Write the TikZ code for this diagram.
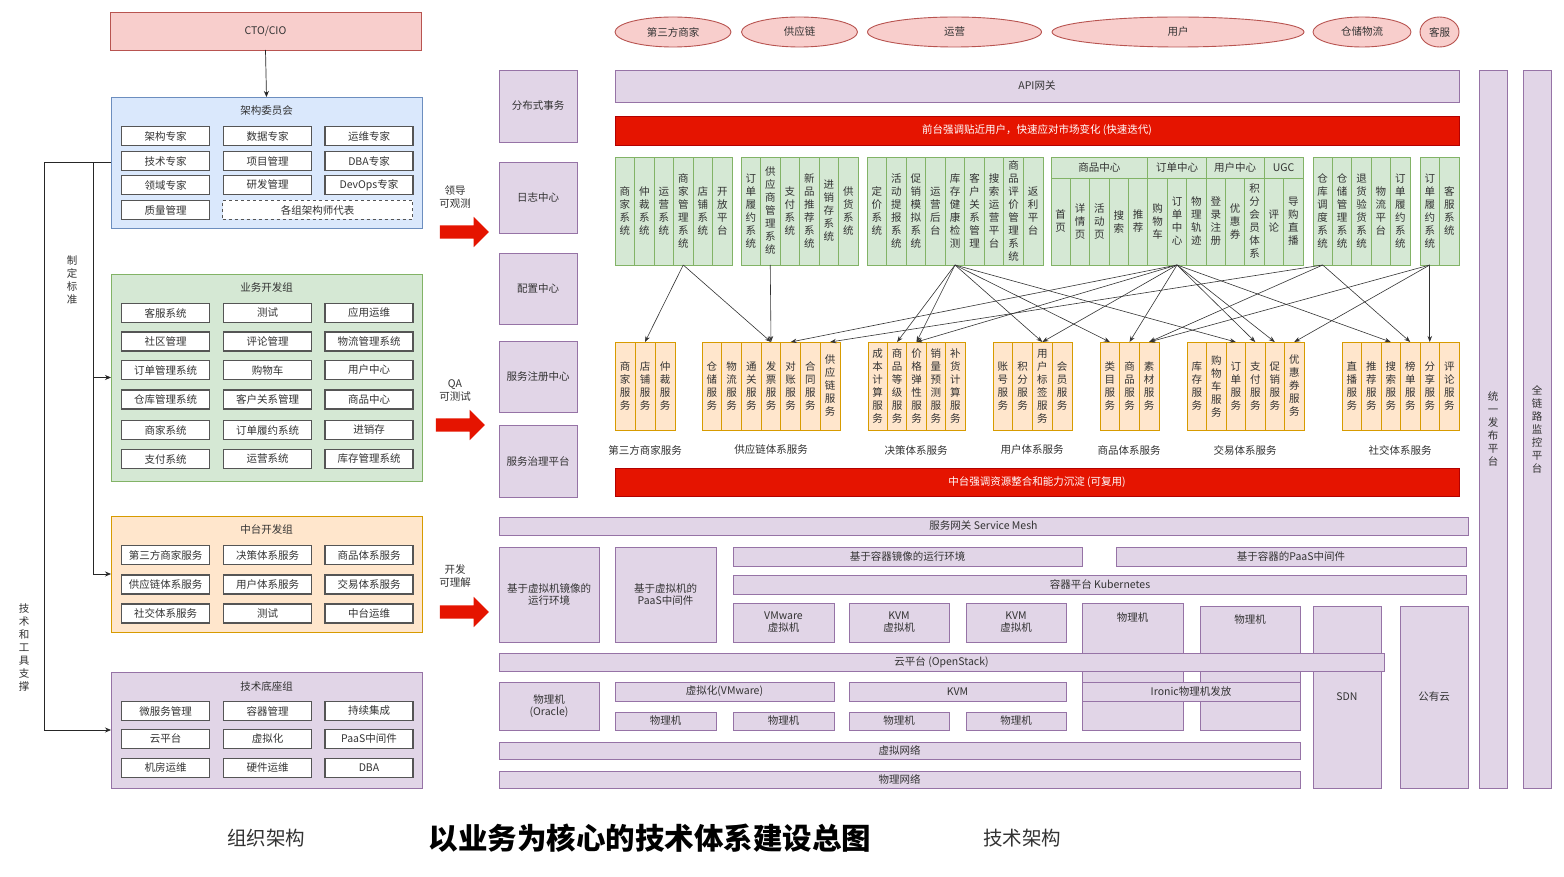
\documentclass[tikz,border=0pt]{standalone}
\usepackage{fontspec}
\setmainfont{Noto Sans CJK SC}
\usetikzlibrary{shapes.arrows,shapes.geometric,arrows.meta}
\definecolor{purF}{HTML}{E1D5E7}
\definecolor{purS}{HTML}{9673A6}
\definecolor{grnF}{HTML}{D5E8D4}
\definecolor{grnS}{HTML}{82B366}
\definecolor{orgF}{HTML}{FFE6CC}
\definecolor{orgS}{HTML}{D79B00}
\definecolor{pnkF}{HTML}{F8CECC}
\definecolor{pnkS}{HTML}{B85450}
\definecolor{bluF}{HTML}{DAE8FC}
\definecolor{bluS}{HTML}{6C8EBF}
\definecolor{redF}{HTML}{E51400}
\definecolor{redS}{HTML}{B20000}
\definecolor{ink}{HTML}{333333}
\definecolor{cellS}{HTML}{555555}

% stack the characters of a word one above the other
\makeatletter
\def\vt#1{\vt@#1\vt@end}
\def\vt@#1#2\vt@end{#1\ifx\vt@end#2\vt@end\else\\\vt@#2\vt@end\fi}
\makeatother

% box given by its corners: style, name, x1, y1, x2, y2, text
\newcommand\rbox[7]{\node[#1,anchor=north west,minimum width={(#5)-(#3)},minimum height={(#6)-(#4)}] (#2) at (#3,#4) {#7};}
% row of equal columns with vertical text: style, prefix, x1, y1, x2, y2, count, labels
\newcommand\colgrp[8]{%
  \foreach \lbl [count=\i] in {#8}{%
    \pgfmathsetmacro\cx{#3+(\i-1)*((#5)-(#3))/#7}%
    \node[#1,anchor=north west,minimum width={((#5)-(#3))/#7},minimum height={(#6)-(#4)}] (#2-\i) at (\cx,#4) {\expandafter\vt\expandafter{\lbl}};%
  }}
% white cell inside an organisation group
\newcommand\cell[4]{\node[cellbox] (#1) at (#2,#3) {#4};}

\begin{document}
\begin{tikzpicture}[x=1pt,y=-1pt,
  txt/.style={text=ink,font=\fontsize{10.5}{12}\selectfont},
  base/.style={inner sep=0pt,outer sep=0pt,line width=0.9pt,txt},
  pur/.style={base,draw=purS,fill=purF},
  grn/.style={base,draw=grnS,fill=grnF},
  org/.style={base,draw=orgS,fill=orgF},
  pnk/.style={base,draw=pnkS,fill=pnkF},
  blu/.style={base,draw=bluS,fill=bluF},
  redbar/.style={base,draw=redS,fill=redF,text=white},
  vcol/.style={align=center,font=\fontsize{10.5}{13}\selectfont},
  gcol/.style={grn,vcol},
  ocol/.style={org,vcol},
  cellbox/.style={base,draw=cellS,fill=white,line width=1.1pt,minimum width=88,minimum height=19},
  ell/.style={ellipse,base,draw=pnkS,fill=pnkF,minimum height=30},
  bigarrow/.style={single arrow,fill=redF,draw=none,inner xsep=0pt,inner ysep=6.5pt,
    single arrow head extend=8.5pt,minimum height=49pt,outer sep=0pt},
  lnk/.style={draw=black!85,line width=0.7pt,-{Stealth[length=6pt,width=5pt]}},
  flow/.style={draw=black!80,line width=0.6pt,-{Stealth[length=6pt,width=4.5pt]}},
]
\useasboundingbox (0,0) rectangle (1564,877);
\fill[white] (0,0) rectangle (1564,877);

% ---------------- organisation ----------------
\rbox{pnk}{cto}{110}{12}{421}{50}{CTO/CIO}
\rbox{blu}{arch}{111}{97}{422}{228}{}
\node[txt] (archT) at (266.5,111) {架构委员会};
\cell{a1}{165.5}{136}{架构专家}
\cell{a2}{267.5}{136}{数据专家}
\cell{a3}{369}{136}{运维专家}
\cell{a4}{165.5}{161}{技术专家}
\cell{a5}{267.5}{161}{项目管理}
\cell{a6}{369}{161}{DBA专家}
\cell{a7}{165.5}{185}{领域专家}
\cell{a8}{267.5}{185}{研发管理}
\cell{a9}{369}{185}{DevOps专家}
\cell{a10}{165.5}{210}{质量管理}
\node[base,draw=cellS,fill=white,line width=1.1pt,dashed,minimum width=190,minimum height=19] (a11) at (317.5,210) {各组架构师代表};

\rbox{grn}{biz}{111}{274}{422}{481}{}
\node[txt] (bizT) at (266.5,288) {业务开发组};
\cell{b1}{165.5}{313}{客服系统}
\cell{b2}{267.5}{313}{测试}
\cell{b3}{369}{313}{应用运维}
\cell{b4}{165.5}{341.5}{社区管理}
\cell{b5}{267.5}{341.5}{评论管理}
\cell{b6}{369}{341.5}{物流管理系统}
\cell{b7}{165.5}{370}{订单管理系统}
\cell{b8}{267.5}{370}{购物车}
\cell{b9}{369}{370}{用户中心}
\cell{b10}{165.5}{399.5}{仓库管理系统}
\cell{b11}{267.5}{399.5}{客户关系管理}
\cell{b12}{369}{399.5}{商品中心}
\cell{b13}{165.5}{430}{商家系统}
\cell{b14}{267.5}{430}{订单履约系统}
\cell{b15}{369}{430}{进销存}
\cell{b16}{165.5}{459}{支付系统}
\cell{b17}{267.5}{459}{运营系统}
\cell{b18}{369}{459}{库存管理系统}

\rbox{org}{mid}{111}{516}{422}{632}{}
\node[txt] (midT) at (266.5,530) {中台开发组};
\cell{m1}{165.5}{555}{第三方商家服务}
\cell{m2}{267.5}{555}{决策体系服务}
\cell{m3}{369}{555}{商品体系服务}
\cell{m4}{165.5}{584.5}{供应链体系服务}
\cell{m5}{267.5}{584.5}{用户体系服务}
\cell{m6}{369}{584.5}{交易体系服务}
\cell{m7}{165.5}{613.5}{社交体系服务}
\cell{m8}{267.5}{613.5}{测试}
\cell{m9}{369}{613.5}{中台运维}

\rbox{pur}{tech}{111}{672}{422}{788}{}
\node[txt] (techT) at (266.5,686) {技术底座组};
\cell{t1}{165.5}{711}{微服务管理}
\cell{t2}{267.5}{711}{容器管理}
\cell{t3}{369}{711}{持续集成}
\cell{t4}{165.5}{739}{云平台}
\cell{t5}{267.5}{739}{虚拟化}
\cell{t6}{369}{739}{PaaS中间件}
\cell{t7}{165.5}{768}{机房运维}
\cell{t8}{267.5}{768}{硬件运维}
\cell{t9}{369}{768}{DBA}

% reporting lines
\draw[lnk] (cto.south) -- (arch.north);
\coordinate (split) at (93,162.5);
\draw[lnk] (arch.west) -- (44,162.5) |- (tech.west);
\draw[lnk] (split) |- (biz.west);
\draw[lnk] (split) |- (mid.west);
\node[txt,vcol] (std) at (72,280) {\vt{制定标准}};
\node[txt,vcol] (tools) at (24,648) {\vt{技术和工具支撑}};

% ---------------- red arrows ----------------
\node[bigarrow] (ra1) at (461,232) {};
\node[txt,align=center,font=\fontsize{10.5}{13}\selectfont] (ra1T) at (455,197) {领导\\可观测};
\node[bigarrow] (ra2) at (457,425) {};
\node[txt,align=center,font=\fontsize{10.5}{13}\selectfont] (ra2T) at (455,390) {QA\\可测试};
\node[bigarrow] (ra3) at (461,612) {};
\node[txt,align=center,font=\fontsize{10.5}{13}\selectfont] (ra3T) at (455,576) {开发\\可理解};

% ---------------- platform side columns ----------------
\rbox{pur}{dtx}{499}{70}{577}{142}{分布式事务}
\rbox{pur}{logc}{499}{162}{577}{233}{日志中心}
\rbox{pur}{cfgc}{499}{253}{577}{324}{配置中心}
\rbox{pur}{regc}{499}{341}{577}{412}{服务注册中心}
\rbox{pur}{govc}{499}{425}{577}{497}{服务治理平台}
\rbox{pur,vcol}{rel}{1479}{70}{1507}{788}{\vt{统一发布平台}}
\rbox{pur,vcol}{mon}{1523}{70}{1551}{788}{\vt{全链路监控平台}}

% ---------------- users ----------------
\node[ell,minimum width=116] (u1) at (673,32) {第三方商家};
\node[ell,minimum width=116] (u2) at (799.5,32) {供应链};
\node[ell,minimum width=174] (u3) at (954.5,32) {运营};
\node[ell,minimum width=252] (u4) at (1178,32) {用户};
\node[ell,minimum width=98] (u5) at (1362,32) {仓储物流};
\node[ell,minimum width=39,inner sep=0pt] (u6) at (1439.5,32) {客服};

\rbox{pur}{api}{615}{70}{1459}{102}{API网关}
\rbox{redbar}{front}{615}{116}{1459}{145}{前台强调贴近用户，快速应对市场变化 (快速迭代)}

% ---------------- front-end systems ----------------
\colgrp{gcol}{g1}{615}{157}{732}{265}{6}{商家系统,仲裁系统,运营系统,商家管理系统,店铺系统,开放平台}
\colgrp{gcol}{g2}{741}{157}{858}{265}{6}{订单履约系统,供应商管理系统,支付系统,新品推荐系统,进销存系统,供货系统}
\colgrp{gcol}{g3}{867}{157}{1043}{265}{9}{定价系统,活动提报系统,促销模拟系统,运营后台,库存健康检测,客户关系管理,搜索运营平台,商品评价管理系统,返利平台}
\rbox{grn}{g4h1}{1051}{157}{1147.9}{178}{商品中心}
\rbox{grn}{g4h2}{1147.9}{157}{1206.1}{178}{订单中心}
\rbox{grn}{g4h3}{1206.1}{157}{1264.2}{178}{用户中心}
\rbox{grn}{g4h4}{1264.2}{157}{1303}{178}{UGC}
\colgrp{gcol}{g4}{1051}{178}{1303}{265}{13}{首页,详情页,活动页,搜索,推荐,购物车,订单中心,物理轨迹,登录注册,优惠券,积分会员体系,评论,导购直播}
\colgrp{gcol}{g5}{1313}{157}{1410}{265}{5}{仓库调度系统,仓储管理系统,退货验货系统,物流平台,订单履约系统}
\colgrp{gcol}{g6}{1420}{157}{1459}{265}{2}{订单履约系统,客服系统}

% ---------------- middle-platform services ----------------
\colgrp{ocol}{o1}{615}{342}{675}{430}{3}{商家服务,店铺服务,仲裁服务}
\colgrp{ocol}{o2}{702}{342}{840}{430}{7}{仓储服务,物流服务,通关服务,发票服务,对账服务,合同服务,供应链服务}
\colgrp{ocol}{o3}{868}{342}{965}{430}{5}{成本计算服务,商品等级服务,价格弹性服务,销量预测服务,补货计算服务}
\colgrp{ocol}{o4}{993}{342}{1072}{430}{4}{账号服务,积分服务,用户标签服务,会员服务}
\colgrp{ocol}{o5}{1100}{342}{1159}{430}{3}{类目服务,商品服务,素材服务}
\colgrp{ocol}{o6}{1187}{342}{1304}{430}{6}{库存服务,购物车服务,订单服务,支付服务,促销服务,优惠券服务}
\colgrp{ocol}{o7}{1342}{342}{1459}{430}{6}{直播服务,推荐服务,搜索服务,榜单服务,分享服务,评论服务}
\node[txt] (o1T) at (645,450) {第三方商家服务};
\node[txt] (o2T) at (771,450) {供应链体系服务};
\node[txt] (o3T) at (916,450) {决策体系服务};
\node[txt] (o4T) at (1032,450) {用户体系服务};
\node[txt] (o5T) at (1129,450) {商品体系服务};
\node[txt] (o6T) at (1245,450) {交易体系服务};
\node[txt] (o7T) at (1400,450) {社交体系服务};
\rbox{redbar}{midbar}{615}{468}{1459}{496}{中台强调资源整合和能力沉淀 (可复用)}

% dependencies from front-end systems to services
\foreach \s/\t in {g1-4/o1-2, g1-4/o2-4, g2-2/o2-4,
  g3-5/o3-2, g3-5/o3-3, g3-5/o4-3, g3-5/o5-1, g3-5/o6-3,
  g4-7/o2-5, g4-7/o3-3, g4-7/o4-3, g4-7/o5-2, g4-7/o6-4, g4-7/o6-5, g4-7/o7-3,
  g5-1/o2-7, g5-1/o5-3, g5-1/o7-4,
  g6-1/o5-3, g6-1/o6-6, g6-1/o7-5}
  \draw[flow] (\s.south) -- (\t.north);

% ---------------- infrastructure ----------------
\rbox{pur}{mesh}{499}{517}{1468}{535}{服务网关 Service Mesh}
\rbox{pur,align=center}{vmrt}{499}{547}{599}{642}{基于虚拟机镜像的\\运行环境}
\rbox{pur,align=center}{vmpaas}{615}{547}{716}{642}{基于虚拟机的\\PaaS中间件}
\rbox{pur}{ctrt}{733}{547}{1082}{566}{基于容器镜像的运行环境}
\rbox{pur}{ctpaas}{1116}{547}{1466}{566}{基于容器的PaaS中间件}
\rbox{pur}{k8s}{733}{575}{1466}{594}{}
\node[txt] (k8sT) at (1100,584.5) {容器平台 Kubernetes};
\rbox{pur,align=center}{vm1}{733}{603}{834}{642}{VMware\\虚拟机}
\rbox{pur,align=center}{vm2}{849}{603}{949}{642}{KVM\\虚拟机}
\rbox{pur,align=center}{vm3}{966}{603}{1066}{642}{KVM\\虚拟机}
\rbox{pur}{pm1}{1082}{603}{1183}{730}{}
\node[txt] (pm1T) at (1132.5,618) {物理机};
\rbox{pur}{pm2}{1200}{606}{1300}{730}{}
\node[txt] (pm2T) at (1250,620) {物理机};
\rbox{pur}{sdn}{1313}{606}{1381}{788}{SDN}
\rbox{pur}{pub}{1400}{606}{1468}{788}{公有云}
\rbox{pur}{cloud}{499}{653}{1384}{671}{云平台 (OpenStack)}
\rbox{pur,align=center}{ora}{499}{682}{599}{730}{物理机\\(Oracle)}
\rbox{pur}{virt}{615}{682}{834}{701}{虚拟化(VMware)}
\rbox{pur}{kvm}{849}{682}{1066}{701}{KVM}
\rbox{pur}{ironic}{1082}{682}{1300}{701}{Ironic物理机发放}
\rbox{pur}{p1}{615}{712}{716}{730}{物理机}
\rbox{pur}{p2}{733}{712}{834}{730}{物理机}
\rbox{pur}{p3}{849}{712}{949}{730}{物理机}
\rbox{pur}{p4}{966}{712}{1066}{730}{物理机}
\rbox{pur}{vnet}{499}{742}{1300}{759}{虚拟网络}
\rbox{pur}{pnet}{499}{771}{1300}{788}{物理网络}

% ---------------- captions ----------------
\node[text=ink,font=\fontsize{19.5}{22}\selectfont] (capL) at (266,838) {组织架构};
\node[text=black,font=\fontsize{29.5}{32}\selectfont\bfseries] (capM) at (650,838) {以业务为核心的技术体系建设总图};
\node[text=ink,font=\fontsize{19.5}{22}\selectfont] (capR) at (1022,838) {技术架构};
\end{tikzpicture}
\end{document}
